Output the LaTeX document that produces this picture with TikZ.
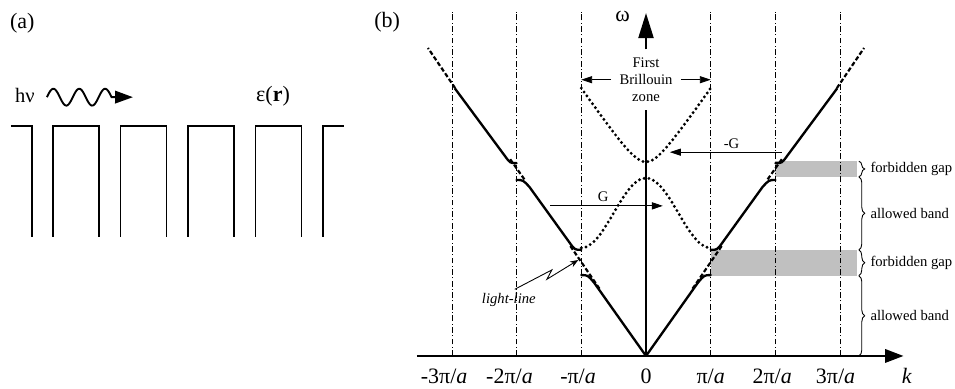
\documentclass[tikz,border=0pt]{standalone}
\usepackage{fontspec}
\setmainfont{Liberation Serif}
\usetikzlibrary{arrows.meta,positioning,calc,decorations.pathreplacing}
\definecolor{gapgray}{RGB}{192,192,192}

\tikzset{
  zoneline/.style={line width=0.5pt,dash pattern=on 4pt off 1.6pt on 0.7pt off 1.6pt},
  band/.style={line width=1.6pt,line cap=round,line join=round},
  folded/.style={line width=2.2pt,line cap=round,dash pattern=on 0pt off 3.3pt},
  lightl/.style={line width=1.5pt,dash pattern=on 3pt off 1.6pt},
  axisline/.style={line width=1.5pt},
  thinarrow/.style={line width=0.6pt,-{Triangle[length=2.6mm,width=1.7mm]}},
  gapbrace/.style={decorate,decoration={brace,amplitude=4pt},line width=0.6pt},
  small label/.style={font=\fontsize{10}{11.6}\selectfont},
  ticklabel/.style={anchor=base,font=\fontsize{15}{18}\selectfont},
  wall/.style={line width=1.3pt},
}

\begin{document}
\begin{tikzpicture}[x=1.552cm,y=1.552cm]
\useasboundingbox (-9.985,-0.51) rectangle (4.776,5.502);

% ---------------- panel (a): periodic dielectric ----------------
\node (labela) at (-9.64,5.15) {\fontsize{15}{18}\selectfont (a)};
\node (hnu) at (-9.6,4.03) {\fontsize{14}{16}\selectfont hν};
\node (epsr) at (-5.765,4.02) {\fontsize{15}{18}\selectfont ε(\textbf{r})};
% incoming photon
\draw[line width=1.3pt,-{Triangle[length=4.3mm,width=3mm]}]
  plot[domain=0:1.0,samples=80,smooth] ({-9.26+\x},{4.0+0.13*sin(\x*900)})
  -- (-7.93,4.0) coordinate (phtip);
% square profile of eps(r)
\draw[wall] (-9.815,3.555) -- (-9.49,3.555) -- (-9.49,1.839);
\foreach \i in {0,...,3}{
  \draw[wall] ({-9.165+1.043*\i},1.839) -- ++(0,1.716) -- ++(0.711,0) -- ++(0,-1.716);
}
\draw[wall] (-4.992,1.839) -- (-4.992,3.555) -- (-4.668,3.555);

% ---------------- panel (b): band diagram ----------------
\node (labelb) at (-4.0,5.16) {\fontsize{15}{18}\selectfont (b)};
% forbidden gaps
\fill[gapgray] (1,1.24) rectangle (3.26,1.64);
\fill[gapgray] (2,2.77) rectangle (3.26,3.01);
% zone boundaries
\foreach \n in {-3,-2,-1,1,2,3}{
  \draw[zoneline] (\n,0) -- (\n,5.32);
}
% axes
\coordinate (O) at (0,0);
\draw[axisline,-{Triangle[length=4.4mm,width=3.2mm]}] (-3.54,0) -- (3.98,0) coordinate (ktip);
\node[ticklabel,font=\fontsize{15}{18}\selectfont\itshape] (klabel) at (4.03,-0.42) {k};
\foreach \n/\t/\nm/\dx in {-3/-3π/m3/-0.12,-2/-2π/m2/-0.11,-1/-π/m1/-0.05,1/π/p1/0,2/2π/p2/-0.05,3/3π/p3/-0.07}{
  \node[ticklabel] (k\nm) at (\n+\dx,-0.42) {\t/\textit{a}};
}
\node[ticklabel] (k0) at (0,-0.42) {0};
\node[small label,align=center,inner sep=5.5pt] (bz) at (0,4.27) {First\\Brillouin\\zone};
\draw[axisline] (O) -- (bz.south);
\draw[axisline,-{Triangle[length=6mm,width=3.6mm]}] (bz.north) -- (0,5.30) coordinate (wtip);
\node (omega) at (-0.36,5.24) {\fontsize{15}{18}\selectfont ω};
\draw[thinarrow] (bz.west) -- (-1,4.27);
\draw[thinarrow] (bz.east) -- (1,4.27);

% folded bands in the first zone
\draw[folded] plot[domain=-1:1,samples=41,smooth] (\x,{2.649+sqrt(0.123+2.1025*\x*\x)});
\draw[folded] plot[domain=-1:1,samples=41,smooth] (\x,{2.21+0.54*cos(180*\x)});

% extended bands and light-line, both sides
\foreach \s in {1,-1}{
\begin{scope}[xscale=\s]
  \draw[band] (O) -- (0.8,1.13) .. controls (0.9,1.25) .. (1,1.25);
  \draw[band] (1,1.64) .. controls (1.1,1.64) .. (1.18,1.75) -- (1.8,2.61)
     .. controls (1.9,2.72) .. (2,2.72);
  \draw[band] (2,2.98) .. controls (2.1,2.98) .. (2.18,3.09) -- (2.95,4.13);
  \draw[lightl] (0.72,1.04) -- (1.17,1.70);
  \draw[lightl] (1.88,2.73) -- (2.12,3.07);
  \draw[lightl] (2.95,4.14) -- (3.37,4.76);
\end{scope}
}

% reciprocal lattice shifts
\draw[thinarrow] (2.1,3.15) -- (0.37,3.15) node[small label,pos=0.45,above=-1pt] (mG) {-G};
\draw[thinarrow] (-1.48,2.32) -- (0.26,2.32) node[small label,pos=0.47,above=-1pt] (G) {G};

% light-line pointer
\node[font=\fontsize{10}{12}\selectfont\itshape] (lightlbl) at (-2.12,0.87) {light-line};
\coordinate (llpt) at (-1.046,1.484);
\draw[line width=0.6pt,-{Stealth[length=2mm]}] ([xshift=4pt,yshift=-1pt]lightlbl.north)
  -- (-1.455,1.33) -- (-1.532,1.185) -- (llpt);

% gaps and bands
\draw[gapbrace] (3.29,3.01) -- (3.29,2.77);
\draw[gapbrace] (3.29,2.77) -- (3.29,1.64);
\draw[gapbrace] (3.29,1.64) -- (3.29,1.24);
\draw[gapbrace] (3.29,1.24) -- (3.29,0);
\node[small label,anchor=west] (fg2) at (3.39,2.89) {forbidden gap};
\node[small label,anchor=west] (ab2) at (3.39,2.20) {allowed band};
\node[small label,anchor=west] (fg1) at (3.39,1.44) {forbidden gap};
\node[small label,anchor=west] (ab1) at (3.39,0.62) {allowed band};

\end{tikzpicture}
\end{document}
